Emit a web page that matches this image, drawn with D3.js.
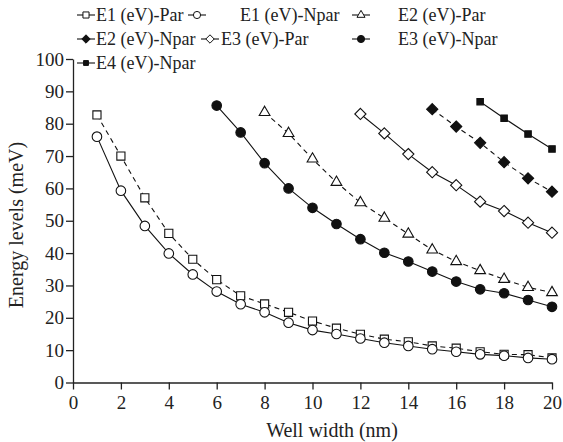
<!DOCTYPE html>
<html>
<head>
<meta charset="utf-8">
<script src="https://cdn.jsdelivr.net/npm/d3@7"></script>
<style>
  body { margin: 0; background: #fff; }
  svg text { font-family: "Liberation Serif", "Times New Roman", serif; fill: #222; }
  .axis path, .axis line { stroke: #222; stroke-width: 1.3; }
  .axis text { font-size: 19px; }
  .axisText { font-size: 20px; }
  .legend text { font-size: 18px; }
</style>
</head>
<body>
<div id="body"></div>
<script>
// well width (nm) for each series
var e1ParX = d3.range(1, 21);
var e1NparX = d3.range(1, 21);
var e2ParX = d3.range(8, 21);
var e2NparX = d3.range(15, 21);
var e3ParX = d3.range(12, 21);
var e3NparX = d3.range(6, 21);
var e4NparX = d3.range(17, 21);

// energy levels (meV)
var e1Par = [82.7, 70, 57.1, 46.1, 38.1, 31.8, 26.8, 24.3, 21.7, 19, 16.8, 14.9, 13.4, 12.6, 11.3, 10.6, 9.5, 8.7, 8.6, 7.6];
var e1Npar = [76, 59.3, 48.4, 39.9, 33.4, 28.1, 24.2, 21.7, 18.5, 16.2, 15, 13.6, 12.3, 11.3, 10.3, 9.5, 8.7, 8.3, 7.6, 7.2];
var e2Par = [83.5, 77, 69.1, 61.9, 55.6, 50.8, 45.9, 41, 37.4, 34.6, 31.9, 29.4, 27.8];
var e2Npar = [84.5, 79.1, 74.1, 68.1, 63.1, 59];
var e3Par = [83, 77, 70.6, 65, 61, 55.9, 53, 49.4, 46.3];
var e3Npar = [85.6, 77.3, 67.8, 60, 54, 49, 44.3, 40.1, 37.4, 34.3, 31.2, 28.8, 27.6, 25.5, 23.4];
var e4Npar = [86.8, 81.7, 76.8, 72.2];

var seriesNames = ["E1 (eV)-Par", "E1 (eV)-Npar", "E2 (eV)-Par", "E2 (eV)-Npar",
  "E3 (eV)-Par", "E3 (eV)-Npar", "E4 (eV)-Npar"];
var xTicks = [0, 2, 4, 6, 8, 10, 12, 14, 16, 18, 20];
var yTicks = [0, 10, 20, 30, 40, 50, 60, 70, 80, 90, 100];

var series = [
  {name: seriesNames[0], x: e1ParX, y: e1Par, shape: "square", fill: "#fff", dash: true},
  {name: seriesNames[1], x: e1NparX, y: e1Npar, shape: "circle", fill: "#fff", dash: false},
  {name: seriesNames[2], x: e2ParX, y: e2Par, shape: "triangle", fill: "#fff", dash: true},
  {name: seriesNames[3], x: e2NparX, y: e2Npar, shape: "diamond", fill: "#111", dash: true},
  {name: seriesNames[4], x: e3ParX, y: e3Par, shape: "diamond", fill: "#fff", dash: false},
  {name: seriesNames[5], x: e3NparX, y: e3Npar, shape: "circle", fill: "#111", dash: false},
  {name: seriesNames[6], x: e4NparX, y: e4Npar, shape: "smallsquare", fill: "#111", dash: false}
];

var W = 563, H = 442;
var margin = {top: 59, right: 11, bottom: 59, left: 73};

var svg = d3.select("#body")
  .append("svg")
  .attr("width", W)
  .attr("height", H);

var x = d3.scaleLinear().domain([0, 20]).range([margin.left, W - margin.right]);
var y = d3.scaleLinear().domain([0, 100]).range([H - margin.bottom - 0.5, margin.top]);

// marker path, k scales it down for the legend
function marker(shape, k) {
  k = k || 1;
  if (shape == "square") return d3.symbol().type(d3.symbolSquare).size(66 * k * k)();
  if (shape == "smallsquare") return d3.symbol().type(d3.symbolSquare).size(42 * k * k)();
  if (shape == "circle") return d3.symbol().type(d3.symbolCircle).size(72 * k * k)();
  if (shape == "triangle") return d3.symbol().type(d3.symbolTriangle).size(50 * k * k)();
  var r = 5.6 * k;
  return "M0," + (-r) + "L" + r + ",0L0," + r + "L" + (-r) + ",0Z";
}

// axes
svg.append("g")
  .attr("class", "axis")
  .attr("transform", "translate(0," + y(0) + ")")
  .call(d3.axisBottom(x).tickValues(xTicks).tickSize(7).tickSizeOuter(0).tickPadding(6));

svg.append("g")
  .attr("class", "axis")
  .attr("transform", "translate(" + x(0) + ",0)")
  .call(d3.axisLeft(y).tickValues(yTicks).tickSize(7).tickSizeOuter(0).tickPadding(2));

svg.selectAll(".axis .tick text").attr("fill", "#222");

var line = d3.line()
  .x(function(d) { return x(d[0]); })
  .y(function(d) { return y(d[1]); });

series.forEach(function(s) {
  var pts = s.x.map(function(v, i) { return [v, s.y[i]]; });
  svg.append("path")
    .datum(pts)
    .attr("d", line)
    .attr("fill", "none")
    .attr("stroke", "#111")
    .attr("stroke-width", 1.1)
    .attr("stroke-dasharray", s.dash ? "5,4" : null);

  svg.selectAll(null)
    .data(pts)
    .enter().append("path")
    .attr("d", marker(s.shape))
    .attr("transform", function(d) { return "translate(" + x(d[0]) + "," + y(d[1]) + ")"; })
    .attr("fill", s.fill)
    .attr("stroke", "#111")
    .attr("stroke-width", 1.1);
});

// axis titles
svg.append("text")
  .attr("class", "axisText")
  .attr("x", 332)
  .attr("y", 437)
  .attr("text-anchor", "middle")
  .text("Well width (nm)");

svg.append("text")
  .attr("class", "axisText")
  .attr("transform", "translate(23,225) rotate(-90)")
  .attr("text-anchor", "middle")
  .text("Energy levels (meV)");

// legend, laid out like the original (three uneven rows)
var legendPos = [[86, 96, 15], [197, 240, 15], [361, 398, 15],
  [86, 96, 39], [210, 221, 39], [361, 398, 39], [86, 96, 63]];

var legend = svg.append("g").attr("class", "legend");
series.forEach(function(s, i) {
  var p = legendPos[i];
  var g = legend.append("g");
  g.append("line")
    .attr("x1", p[0] - 9).attr("x2", p[0] + 9)
    .attr("y1", p[2]).attr("y2", p[2])
    .attr("stroke", "#111").attr("stroke-width", 1.1);
  g.append("path")
    .attr("d", marker(s.shape, 0.75))
    .attr("transform", "translate(" + p[0] + "," + p[2] + ")")
    .attr("fill", s.fill)
    .attr("stroke", "#111")
    .attr("stroke-width", 1);
  g.append("text")
    .attr("x", p[1])
    .attr("y", p[2] + 6)
    .text(s.name);
});
</script>
</body>
</html>
